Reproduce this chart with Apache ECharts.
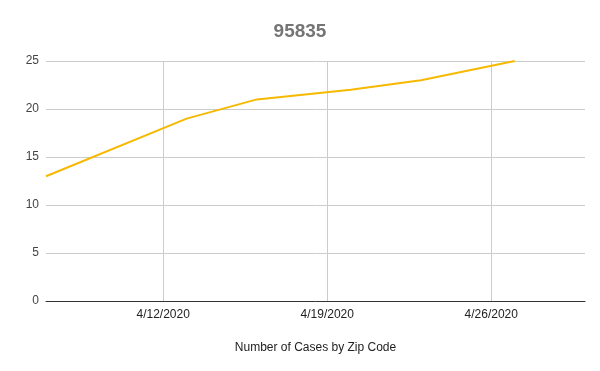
<!DOCTYPE html>
<html>
<head>
<meta charset="utf-8">
<script src="https://cdn.jsdelivr.net/npm/echarts@6/dist/echarts.min.js"></script>
<style>html,body{margin:0;padding:0;background:#fff}#c{width:600px;height:371px}</style>
</head>
<body>
<div id="c"></div>
<script>
const dates = ['2020-04-07', '2020-04-13', '2020-04-16', '2020-04-20', '2020-04-23', '2020-04-27'];
const cases = [13, 19, 21, 22, 23, 25];
const tickDates = ['2020-04-12', '2020-04-19', '2020-04-26'];
const tickLabels = ['4/12/2020', '4/19/2020', '4/26/2020'];
const xMin = '2020-04-07';
const xMax = '2020-04-30';

const ts = d => Date.UTC(+d.slice(0, 4), +d.slice(5, 7) - 1, +d.slice(8, 10));
const tickTimes = tickDates.map(ts);
const chart = echarts.init(document.getElementById('c'));
chart.setOption({
  animation: false,
  title: {
    text: '95835', left: 'center', top: 17,
    textStyle: { fontFamily: 'Liberation Sans', fontSize: 19, fontWeight: 'bold', color: '#757575' }
  },
  grid: { left: 46, right: 15, top: 61, bottom: 70, containLabel: false },
  xAxis: {
    type: 'value',
    min: ts(xMin),
    max: ts(xMax),
    name: 'Number of Cases by Zip Code',
    nameLocation: 'middle', nameGap: 41,
    nameTextStyle: { fontFamily: 'Liberation Sans', fontSize: 12, color: '#222' },
    axisLine: { show: true, onZero: false, lineStyle: { color: '#333', width: 1 } },
    axisTick: { show: false },
    axisLabel: {
      customValues: tickTimes,
      fontFamily: 'Liberation Sans', fontSize: 12, color: '#222', margin: 8,
      formatter: v => { const i = tickTimes.indexOf(v); return i >= 0 ? tickLabels[i] : ''; }
    },
    splitLine: { show: false }
  },
  yAxis: {
    type: 'value', min: 0, max: 25, interval: 5,
    axisLine: { show: false }, axisTick: { show: false },
    axisLabel: { fontFamily: 'Liberation Sans', fontSize: 12, color: '#444', margin: 7 },
    splitLine: { lineStyle: { color: '#cccccc', width: 1 } }
  },
  series: [{
    type: 'line',
    data: dates.map((d, i) => [ts(d), cases[i]]),
    showSymbol: false, symbol: 'none',
    lineStyle: { color: '#f6b900', width: 2 },
    itemStyle: { color: '#f6b900' },
    z: 3,
    markLine: {
      silent: true, symbol: 'none', label: { show: false },
      lineStyle: { color: '#cccccc', width: 1, type: 'solid' },
      emphasis: { disabled: true },
      z: 1,
      data: tickTimes.map(t => ({ xAxis: t }))
    }
  }]
});
</script>
</body>
</html>
